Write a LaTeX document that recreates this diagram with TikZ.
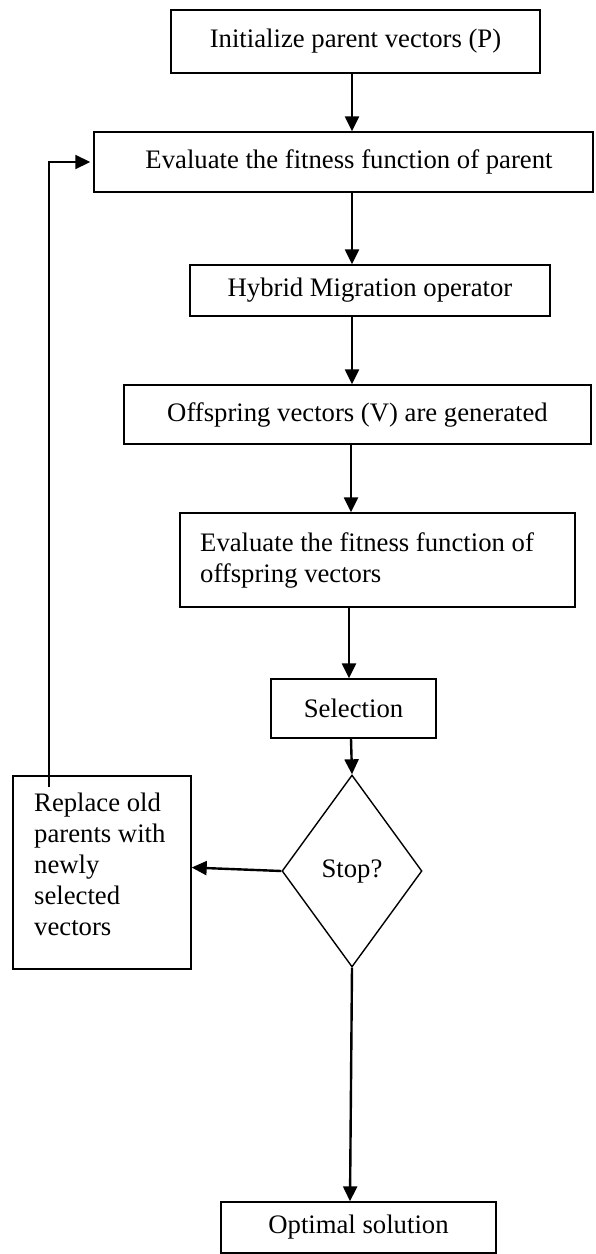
\documentclass[tikz,border=0pt]{standalone}
\usepackage{fontspec}
\setmainfont{Liberation Serif}
\usetikzlibrary{shapes.geometric,arrows.meta,calc}
\begin{document}
\begin{tikzpicture}[x=1pt,y=-1pt,
  box/.style={draw,line width=1.4pt,inner sep=0pt,align=center,
    font=\fontsize{26.7}{32}\selectfont},
  lbl/.style={inner sep=0pt,align=left,font=\fontsize{26.7}{31}\selectfont},
  arr/.style={line width=2.4pt,-{Triangle[length=15pt,width=14pt]}},
  fb/.style={line width=1.6pt}]
\useasboundingbox (0,0) rectangle (595,1254);
\node[box,minimum width=369pt,minimum height=63pt] (b1) at (355.5,41.5) {Initialize parent vectors (P)};
\node[box,minimum width=499pt,minimum height=60pt] (b2) at (343.5,162) {\hspace*{11pt}Evaluate the fitness function of parent};
\node[box,minimum width=360pt,minimum height=51pt] (b3) at (370,290.5) {Hybrid Migration operator};
\node[box,minimum width=467pt,minimum height=59pt] (b4) at (357.5,414.5) {Offspring vectors (V) are generated};
\node[box,minimum width=395pt,minimum height=94pt] (b5) at (377.5,560) {};
\node[lbl,anchor=west] (t5) at (200,560) {Evaluate the fitness function of\\offspring vectors};
\node[box,minimum width=165pt,minimum height=59pt] (b6) at (353.5,708.5) {Selection};
\node[box,diamond,minimum width=140pt,minimum height=192pt] (d) at (352,871) {Stop?};
\node[box,minimum width=178pt,minimum height=193pt] (rp) at (102,872.5) {};
\node[lbl,anchor=west] (trp) at (34,864) {Replace old\\parents with\\newly\\selected\\vectors};
\node[box,minimum width=275pt,minimum height=51pt] (opt) at (358.5,1227.5) {Optimal solution};
\coordinate (xa) at (352,0);
\coordinate (xb) at (351,0);
\coordinate (xc) at (349,0);
\coordinate (xd) at (350,0);
\coordinate (fbs) at (49,787);
\draw[arr] (b1.south -| xa) -- (b2.north -| xa);
\draw[arr] (b2.south -| xa) -- (b3.north -| xa);
\draw[arr] (b3.south -| xa) -- (b4.north -| xa);
\draw[arr] (b4.south -| xb) -- (b5.north -| xb);
\draw[arr] (b5.south -| xc) -- (b6.north -| xc);
\draw[arr] (b6.south -| xb) -- (d.north);
\draw[arr] (d.west) -- ($(rp.east)+(0,-5)$);
\draw[arr] (d.south) -- (opt.north -| xd);
\draw[fb] (fbs) -- (fbs |- b2.west);
\draw[arr,line width=1.8pt] ($(fbs |- b2.west)+(-0.8,0)$) -- ($(b2.west)+(-3,0)$);
\end{tikzpicture}
\end{document}
